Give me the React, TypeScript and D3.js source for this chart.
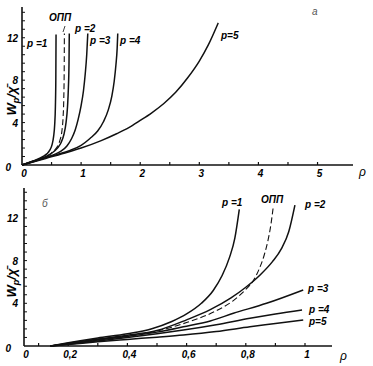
import React, { useEffect, useRef } from 'react';
import * as d3 from 'd3';

// top panel (a): W_p / chi vs rho
const topP1 = [[0, 0], [0.2, 0.4], [0.35, 0.78], [0.42, 1.05], [0.47, 1.4], [0.51, 1.95], [0.535, 2.7], [0.553, 3.8], [0.565, 5.5], [0.572, 8], [0.576, 12.3]];
const topOpp = [[0, 0], [0.2, 0.38], [0.4, 0.8], [0.5, 1.15], [0.58, 1.6], [0.64, 2.3], [0.675, 3.2], [0.695, 4.5], [0.707, 6.3], [0.714, 9], [0.717, 12.4]];
const topP2 = [[0, 0], [0.2, 0.37], [0.4, 0.78], [0.5, 1.1], [0.6, 1.6], [0.66, 2.1], [0.71, 2.9], [0.745, 4.0], [0.77, 5.5], [0.785, 7.3], [0.795, 9.5], [0.8, 12.4]];
const topP3 = [[0, 0], [0.2, 0.35], [0.4, 0.72], [0.55, 1.0], [0.66, 1.3], [0.76, 1.8], [0.84, 2.5], [0.9, 3.3], [0.95, 4.3], [1.0, 5.6], [1.04, 7.0], [1.07, 8.6], [1.095, 10.4], [1.113, 12.4]];
const topP4 = [[0, 0], [0.2, 0.33], [0.4, 0.68], [0.6, 1.0], [0.8, 1.35], [1.0, 1.85], [1.15, 2.5], [1.28, 3.2], [1.38, 4.1], [1.46, 5.2], [1.52, 6.5], [1.56, 7.9], [1.59, 9.5], [1.61, 11], [1.62, 12.4]];
const topP5 = [[0, 0], [0.2, 0.3], [0.4, 0.62], [0.77, 1.2], [1.0, 1.6], [1.34, 2.3], [1.6, 2.95], [1.8, 3.5], [2.0, 4.2], [2.19, 4.9], [2.4, 5.8], [2.6, 6.85], [2.8, 8.2], [3.0, 9.8], [3.15, 11.3], [3.32, 13.4]];

// bottom panel (б)
const botP1 = [[0.14, 0], [0.2, 0.3], [0.3, 0.75], [0.4, 1.15], [0.48, 1.6], [0.55, 2.3], [0.6, 3.0], [0.65, 4.0], [0.69, 5.2], [0.72, 6.6], [0.745, 8.3], [0.763, 10.1], [0.778, 12.8]];
const botOpp = [[0.14, 0], [0.2, 0.22], [0.3, 0.6], [0.4, 0.95], [0.5, 1.4], [0.6, 2.2], [0.7, 3.3], [0.76, 4.3], [0.8, 5.3], [0.825, 6.1], [0.845, 7.2], [0.862, 8.5], [0.875, 9.9], [0.885, 11.4], [0.893, 13.1]];
const botP2 = [[0.14, 0], [0.2, 0.25], [0.3, 0.65], [0.4, 1.0], [0.5, 1.45], [0.6, 2.45], [0.68, 3.4], [0.75, 4.5], [0.8, 5.5], [0.85, 6.7], [0.89, 7.9], [0.92, 9.1], [0.945, 10.7], [0.966, 13.2]];
const botP3 = [[0.14, 0], [0.2, 0.2], [0.3, 0.55], [0.4, 0.9], [0.5, 1.3], [0.589, 1.8], [0.68, 2.35], [0.758, 3.06], [0.87, 4.0], [0.994, 5.25]];
const botP4 = [[0.14, 0], [0.2, 0.17], [0.3, 0.48], [0.4, 0.8], [0.5, 1.15], [0.589, 1.5], [0.7, 2.0], [0.814, 2.6], [0.9, 3.0], [0.99, 3.37]];
const botP5 = [[0.14, 0], [0.2, 0.14], [0.3, 0.4], [0.4, 0.62], [0.5, 0.83], [0.589, 1.03], [0.7, 1.35], [0.814, 1.8], [0.9, 2.1], [0.994, 2.44]];

const yTickLabels = [0, 4, 8, 12];
const topXTickLabels = [0, 1, 2, 3, 4, 5];
const botXTickLabels = [0, 0.2, 0.4, 0.6, 0.8, 1];

const font = '"Liberation Sans", Arial, sans-serif';

const App = () => {
  const ref = useRef<SVGSVGElement>(null);

  useEffect(() => {
    const svg = d3.select(ref.current);
    svg.selectAll('*').remove();

    const drawPanel = (cfg: any) => {
      const { x, y, curves, xMinor, yMinor, xTicks, fmt, rhoPos, yTitleY, tag, tagPos } = cfg;
      const g = svg.append('g');
      const [x0, x1] = x.range();
      const [yb, yt] = y.range();

      // axes lines
      g.append('line').attr('x1', x0).attr('x2', x1).attr('y1', yb).attr('y2', yb)
        .attr('stroke', '#111').attr('stroke-width', 1.6);
      g.append('line').attr('x1', x0).attr('x2', x0).attr('y1', yb).attr('y2', yt)
        .attr('stroke', '#111').attr('stroke-width', 1.6);

      // y minor ticks
      g.selectAll('.ym').data(yMinor).enter().append('line')
        .attr('x1', x0).attr('x2', x0 + 3)
        .attr('y1', (d: number) => y(d)).attr('y2', (d: number) => y(d))
        .attr('stroke', '#111').attr('stroke-width', 1);
      // x minor ticks
      g.selectAll('.xm').data(xMinor).enter().append('line')
        .attr('x1', (d: number) => x(d)).attr('x2', (d: number) => x(d))
        .attr('y1', yb).attr('y2', yb - 3)
        .attr('stroke', '#111').attr('stroke-width', 1.2);

      // y labels
      g.selectAll('.yl').data(yTickLabels).enter().append('text')
        .attr('x', (d: number) => (d === 0 ? 11 : 18))
        .attr('y', (d: number) => y(d) + (d === 0 ? 6 : 4))
        .attr('text-anchor', 'end')
        .style('font', `italic bold 10px ${font}`)
        .text((d: number) => d);

      // x labels
      const dmin = x.domain()[0];
      g.selectAll('.xl').data(xTicks).enter().append('text')
        .attr('x', (d: number) => x(Math.max(d, dmin)) + 2)
        .attr('y', yb + 12)
        .attr('text-anchor', 'middle')
        .style('font', `italic bold 10px ${font}`)
        .text((d: number) => fmt(d));

      // rho
      g.append('text').attr('x', rhoPos[0]).attr('y', rhoPos[1])
        .style('font', `italic 12px ${font}`).text('ρ');

      // y title
      const t = g.append('text')
        .attr('transform', `translate(16,${yTitleY}) rotate(-90)`)
        .attr('text-anchor', 'middle')
        .style('font', `italic bold 13px ${font}`);
      t.append('tspan').text('W');
      t.append('tspan').attr('dy', 3).style('font-size', '9px').text('p');
      t.append('tspan').attr('dy', -3).text('/χ̄');

      // panel tag
      g.append('text').attr('x', tagPos[0]).attr('y', tagPos[1])
        .style('font', `italic 10px ${font}`).attr('fill', '#555').text(tag);

      const line = d3.line<number[]>()
        .x((d) => x(d[0]))
        .y((d) => y(d[1]))
        .curve(d3.curveMonotoneX);

      curves.forEach((c: any) => {
        g.append('path').attr('d', line(c.data))
          .attr('fill', 'none').attr('stroke', '#111')
          .attr('stroke-width', c.dash ? 1.1 : 1.5)
          .attr('stroke-dasharray', c.dash ? '6,3' : null);
        g.append('text').attr('x', c.lx).attr('y', c.ly)
          .style('font', `italic bold 10px ${font}`)
          .text(c.label);
      });
    };

    const d3range = (a: number, b: number, s: number) => d3.range(0, Math.round((b - a) / s) + 1).map((i) => a + i * s);

    // top panel
    const xTop = d3.scaleLinear().domain([0, 5.6]).range([22, 353]);
    const yTop = d3.scaleLinear().domain([0, 14.9]).range([165, 7]);
    drawPanel({
      x: xTop, y: yTop,
      xMinor: d3range(0.5, 5, 0.5),
      yMinor: d3range(0.8, 14.4, 0.8),
      xTicks: topXTickLabels,
      fmt: (d: number) => String(d),
      rhoPos: [359, 176],
      yTitleY: 101,
      tag: 'а', tagPos: [312, 15],
      curves: [
        { data: topP1, label: 'p =1', lx: 27, ly: 47 },
        { data: topOpp, label: 'ОПП', lx: 49, ly: 21, dash: true },
        { data: topP2, label: 'p =2', lx: 75, ly: 32 },
        { data: topP3, label: 'p =3', lx: 90, ly: 44 },
        { data: topP4, label: 'p =4', lx: 120, ly: 44 },
        { data: topP5, label: 'p=5', lx: 221, ly: 39 },
      ],
    });
    // small leader from ОПП label
    svg.append('line').attr('x1', 65).attr('y1', 26).attr('x2', 63).attr('y2', 32)
      .attr('stroke', '#111').attr('stroke-width', 0.8);

    // bottom panel
    const xBot = d3.scaleLinear().domain([(24 - 9) / 296, (332 - 9) / 296]).range([24, 332]);
    const yBot = d3.scaleLinear().domain([0, 14.8]).range([346, 188]);
    drawPanel({
      x: xBot, y: yBot,
      xMinor: d3range(0.1, 1, 0.1),
      yMinor: d3range(0.8, 14.4, 0.8),
      xTicks: botXTickLabels,
      fmt: (d: number) => String(d).replace('.', ','),
      rhoPos: [340, 360],
      yTitleY: 283,
      tag: 'б', tagPos: [42, 207],
      curves: [
        { data: botP1, label: 'p =1', lx: 222, ly: 206 },
        { data: botOpp, label: 'ОПП', lx: 261, ly: 203, dash: true },
        { data: botP2, label: 'p =2', lx: 305, ly: 208 },
        { data: botP3, label: 'p =3', lx: 308, ly: 292 },
        { data: botP4, label: 'p =4', lx: 309, ly: 313 },
        { data: botP5, label: 'p=5', lx: 309, ly: 325 },
      ],
    });
  }, []);

  return (
    <svg ref={ref} width={373} height={366}
      style={{ position: 'absolute', left: 0, top: 0, background: '#fff' }} />
  );
};

export default App;
